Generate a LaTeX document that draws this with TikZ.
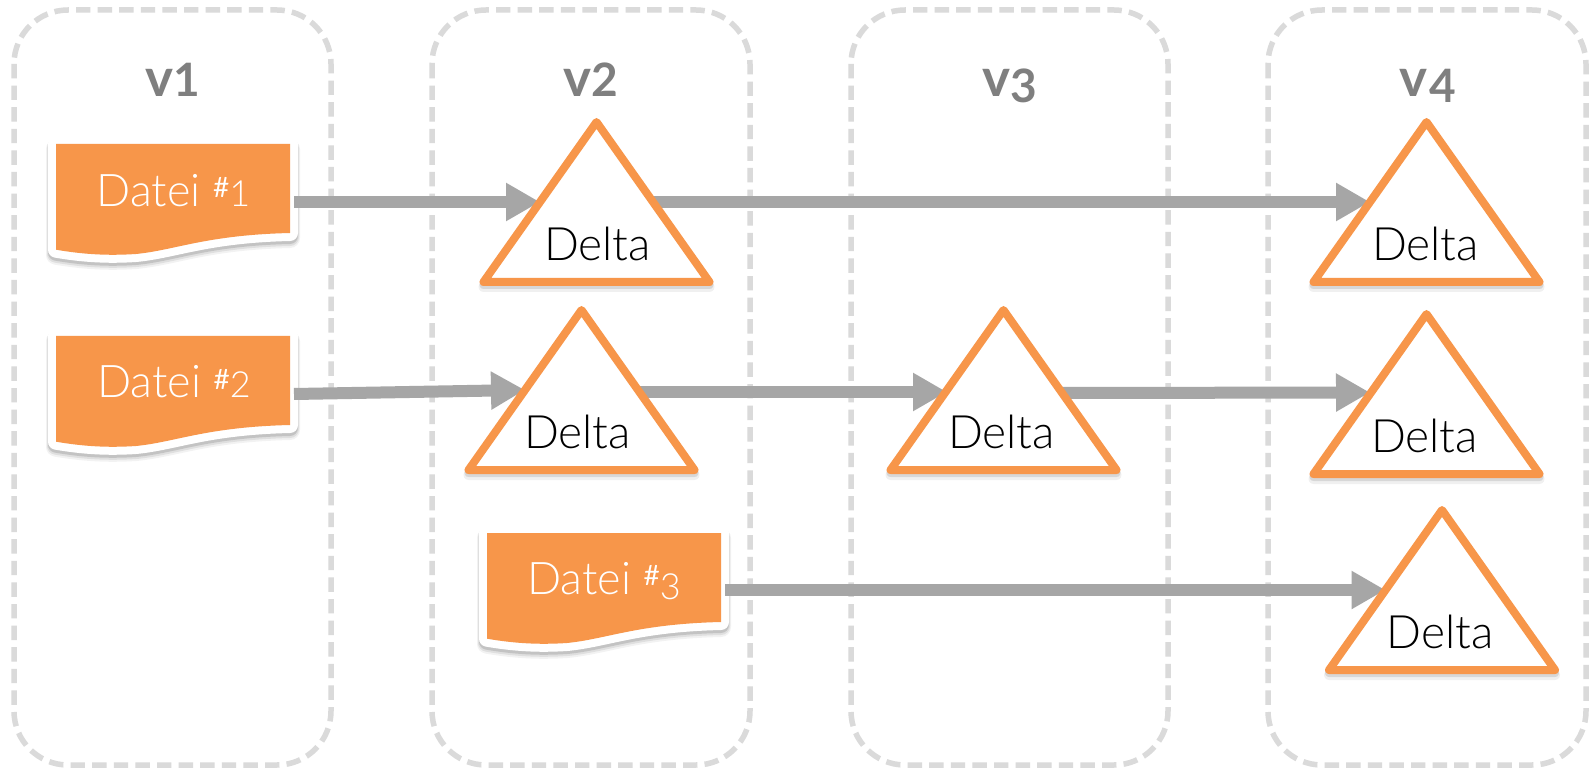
\documentclass[tikz,border=0pt]{standalone}
\usepackage{fontspec}
\setmainfont{Lato}
\newfontfamily\lightf{Lato Light}
\newfontfamily\headf{Lato Bold}
\usetikzlibrary{shapes.geometric,arrows.meta}
\definecolor{accent}{HTML}{F7964A}
\definecolor{flowgray}{HTML}{A6A6A6}
\definecolor{dashgray}{HTML}{DADADA}
\definecolor{headgray}{HTML}{7F7F7F}
\pgfdeclarelayer{conn}
\pgfdeclarelayer{top}
\pgfsetlayers{main,conn,top}
\tikzset{
  panelbox/.style={draw=dashgray,line width=2.75pt,rounded corners=27pt,dash pattern=on 7.2pt off 3.6pt},
  headtext/.style={font=\headf\fontsize{26.5}{26.5}\selectfont,text=headgray,inner sep=0pt,anchor=base},
  flow/.style={draw=flowgray,line width=6pt,-{Triangle[length=17pt,width=18pt]}},
  tribox/.style={shape=isosceles triangle,shape border rotate=90,isosceles triangle stretches,
    minimum width=113pt,minimum height=80pt,inner sep=0pt,outer sep=0pt,line join=round,anchor=apex},
  deltashape/.style={tribox,line width=4pt,draw=accent,fill=white},
  deltashadowa/.style={tribox,line width=5pt,draw=black,opacity=.06},
  deltashadowb/.style={tribox,line width=4pt,draw=black,opacity=.10},
  deltatext/.style={font=\lightf\fontsize{23}{23}\selectfont,text=black,inner sep=0pt},
  docanchor/.style={minimum width=119pt,minimum height=60pt,inner sep=0pt,outer sep=0pt},
  doctext/.style={font=\lightf\fontsize{22.5}{22.5}\selectfont,text=white,inner sep=0pt,anchor=base},
}
\newcommand{\docoutline}{(0,0) -- (234,0) -- (234,89) .. controls (150,91) and (120,106) .. (80,110) .. controls (50,112) and (25,110) .. (0,105.7) -- cycle}
% #1 name, #2 x, #3 y, #4 height of the connector start, #5 text x, #6 text baseline, #7 text
\newcommand{\docshape}[7]{%
  \begin{scope}[shift={(#2,#3)}]
    \path[draw=black,opacity=.05,line width=10pt,line join=round,shift={(0,5)}] \docoutline;
    \path[draw=black,opacity=.08,line width=9pt,line join=round,shift={(0,4)}] \docoutline;
    \path[draw=black,opacity=.12,line width=8pt,line join=round,shift={(0,3)}] \docoutline;
    \path[draw=white,fill=white,line width=8pt,line join=round] \docoutline;
    \path[fill=accent] \docoutline;
    \node[docanchor] (#1) at (119,#4) {};
    \node[doctext] (#1t) at (#5,#6) {#7};
  \end{scope}}
\newcommand{\deltashape}[5]{%
  \begin{pgfonlayer}{top}
    \node[deltashadowa] at (#2,#3+5) {};
    \node[deltashadowb] at (#2,#3+3) {};
    \node[deltashape] (#1) at (#2,#3) {};
    \node[deltatext] (#1t) at (#2+#4,#3+#5) {Delta};
  \end{pgfonlayer}}
\newcommand{\fileno}[2]{{\normalfont\fontsize{14}{14}\selectfont\raisebox{4.5pt}{\#}}{\raisebox{#2}{\fontsize{18}{18}\selectfont#1}}}
\newcommand{\headdigit}[2]{\raisebox{#2}{\fontsize{23}{23}\selectfont#1}}
\begin{document}
\begin{tikzpicture}[x=0.5pt,y=-0.5pt]
\useasboundingbox[fill=white] (0,0) rectangle (1591,770);
% panels
\draw[panelbox] (14,10) rectangle (331,765);
\draw[panelbox] (432,10) rectangle (750,765);
\draw[panelbox] (851,10) rectangle (1168,765);
\draw[panelbox] (1268,10) rectangle (1586,765);
\node[headtext] (h1) at (173,97) {v\headdigit{1}{0pt}};
\node[headtext] (h2) at (591,97) {v\headdigit{2}{0pt}};
\node[headtext] (h3) at (1009.5,97) {v\headdigit{3}{-3pt}};
\node[headtext] (h4) at (1427.5,97) {v\kern1pt\headdigit{4}{-3pt}};
% files
\docshape{d1}{56}{144}{57}{117.5}{63}{Datei \fileno{1}{0pt}}
\docshape{d2}{56}{336}{58}{118}{62}{Datei \fileno{2}{0pt}}
\docshape{d3}{487}{533}{57}{117}{61}{Datei \fileno{3}{-2.5pt}}
% deltas
\deltashape{t1}{596.5}{122}{1}{122}
\deltashape{t2}{1426.5}{122}{-1}{122}
\deltashape{t3}{581.5}{310}{-4}{122}
\deltashape{t4}{1003.5}{310}{-2}{122}
\deltashape{t5}{1426.5}{314}{-2}{122}
\deltashape{t6}{1442}{510}{-2}{122}
% connectors
\begin{pgfonlayer}{conn}
\draw[flow] (d1.east |- t1.left side) -- (t1.left side);
\draw[flow] (t1.right side) -- (t2.left side);
\draw[flow] (d2.east) -- (t3.left side);
\draw[flow] ([yshift=-1pt]t3.right side) -- ([yshift=-1pt]t4.left side);
\draw[flow] ([yshift=-1.5pt]t4.right side) -- ([yshift=0.75pt]t5.left side);
\draw[flow] (d3.east |- t6.left side) -- (t6.left side);
\end{pgfonlayer}
\end{tikzpicture}
\end{document}
